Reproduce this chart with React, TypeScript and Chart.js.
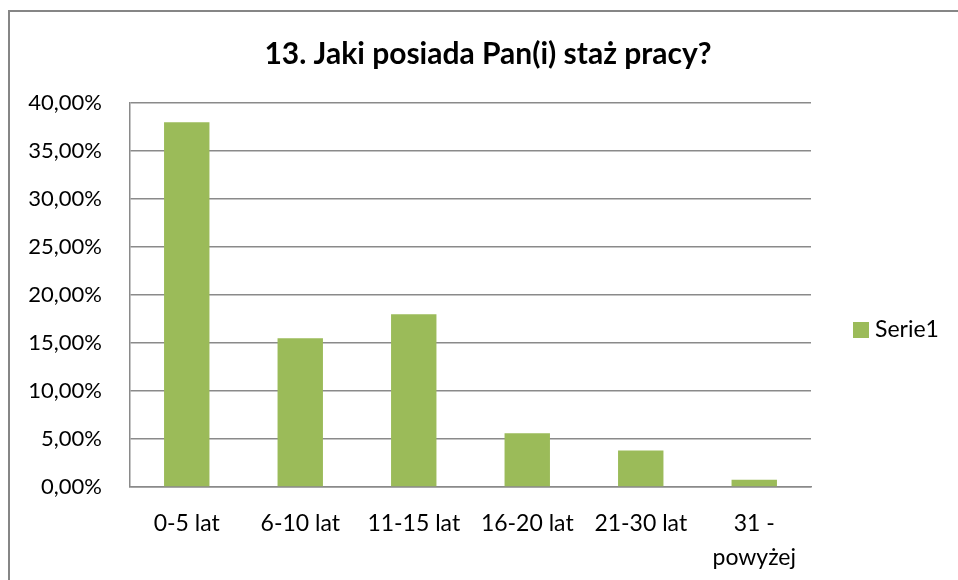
import React, { useEffect, useRef } from "react";
import { Chart, registerables } from "chart.js";

Chart.register(...registerables);

const categories: (string | string[])[] = [
  "0-5 lat",
  "6-10 lat",
  "11-15 lat",
  "16-20 lat",
  "21-30 lat",
  ["31 -", "powyżej"],
];
const seriesName = "Serie1";
const seriesValues = [38.0, 15.5, 18.0, 5.6, 3.8, 0.75];
const yTicks = [0, 5, 10, 15, 20, 25, 30, 35, 40];
const titleText = "13. Jaki posiada Pan(i) staż pracy?";

const FONT = "Lato, 'Open Sans', sans-serif";
const GREEN = "#9BBB59";
const GRID = "#8a8a8a";

const legendPlugin = {
  id: "sideLegend",
  afterDraw(chart: any) {
    const { ctx, chartArea } = chart;
    const ds = chart.data.datasets[0];
    const x = chartArea.right + 42;
    const cy = 330;
    ctx.save();
    ctx.fillStyle = ds.backgroundColor;
    ctx.fillRect(x, cy - 8, 16, 16);
    ctx.fillStyle = "#000";
    ctx.font = `23px ${FONT}`;
    ctx.textBaseline = "middle";
    ctx.textAlign = "left";
    ctx.fillText(ds.label, x + 22, cy);
    ctx.restore();
  },
};

export default function App() {
  const ref = useRef<HTMLCanvasElement>(null);
  useEffect(() => {
    if (!ref.current) return;
    const chart = new Chart(ref.current, {
      type: "bar",
      data: {
        labels: categories,
        datasets: [
          {
            label: seriesName,
            data: seriesValues,
            backgroundColor: GREEN,
            borderWidth: 0,
            barPercentage: 0.4,
            categoryPercentage: 1,
          },
        ],
      },
      options: {
        animation: false,
        responsive: false,
        maintainAspectRatio: false,
        layout: { padding: { left: 18, right: 0, top: 0, bottom: 0 } },
        plugins: {
          legend: { display: false },
          tooltip: { enabled: false },
          title: {
            display: true,
            text: titleText,
            color: "#000",
            font: { family: FONT, size: 30, weight: "bold", lineHeight: 1.2 },
            padding: { top: 36, bottom: 31 },
          },
        },
        scales: {
          x: {
            grid: { display: false, drawTicks: false },
            border: { display: true, color: GRID, width: 1.5 },
            ticks: {
              color: "#000",
              font: { family: FONT, size: 23, lineHeight: 1.5 },
              padding: 19,
              maxRotation: 0,
              autoSkip: false,
            },
            afterFit(scale: any) {
              scale.height = 93;
            },
          },
          y: {
            min: 0,
            max: 40,
            grid: { color: GRID, lineWidth: 1.5, drawTicks: false },
            border: { display: true, color: GRID, width: 1.5 },
            afterBuildTicks(scale: any) {
              scale.ticks = yTicks.map((v) => ({ value: v }));
            },
            ticks: {
              color: "#000",
              font: { family: FONT, size: 22 },
              padding: 28,
              callback: (v: any) => Number(v).toFixed(2).replace(".", ",") + "%",
            },
            afterFit(scale: any) {
              scale.width = 112;
            },
          },
          legendSpace: {
            type: "linear",
            position: "right",
            display: true,
            grid: { display: false, drawTicks: false },
            border: { display: false },
            ticks: { display: false },
            afterFit(scale: any) {
              scale.width = 147;
            },
          },
        },
      },
      plugins: [legendPlugin],
    });
    return () => chart.destroy();
  }, []);

  return (
    <div
      style={{
        position: "fixed",
        left: 0,
        top: 0,
        width: 958,
        height: 580,
        overflow: "hidden",
        background: "#fff",
      }}
    >
      <canvas
        ref={ref}
        width={958}
        height={580}
        style={{ position: "absolute", left: 0, top: 0, width: 958, height: 580 }}
      />
      <div
        style={{
          position: "absolute",
          left: 8,
          top: 10,
          width: 1000,
          height: 700,
          borderLeft: "2px solid #868686",
          borderTop: "2px solid #868686",
          pointerEvents: "none",
        }}
      />
    </div>
  );
}
